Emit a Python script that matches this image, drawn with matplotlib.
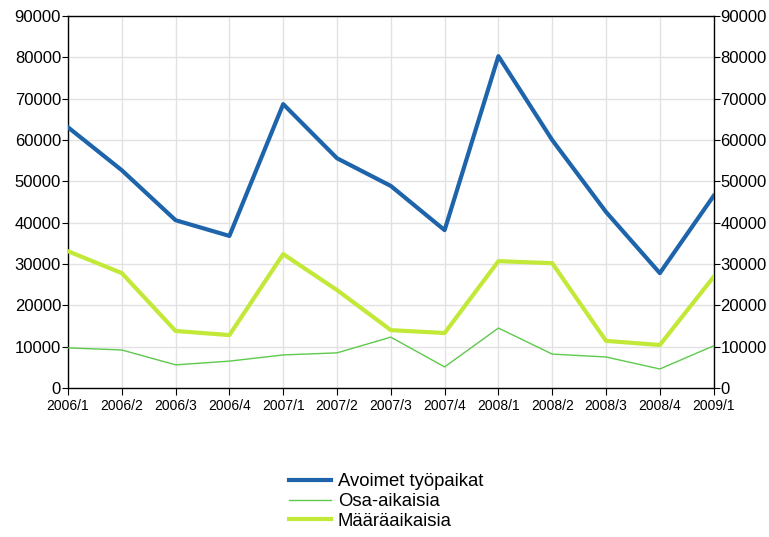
import matplotlib.pyplot as plt
import numpy as np

# quarters (x axis)
quarters = ['2006/1', '2006/2', '2006/3', '2006/4',
            '2007/1', '2007/2', '2007/3', '2007/4',
            '2008/1', '2008/2', '2008/3', '2008/4', '2009/1']

# series values
avoimet = [63100, 52700, 40600, 36800, 68700, 55600, 48900, 38200,
           80300, 60000, 42600, 27800, 46500]
osa_aikaisia = [9700, 9200, 5600, 6500, 8000, 8500, 12300, 5100,
                14500, 8200, 7500, 4600, 10200]
maaraaikaisia = [33100, 27800, 13800, 12800, 32400, 23700, 14000, 13300,
                 30700, 30200, 11400, 10400, 26900]

y_ticks = np.arange(0, 90001, 10000)

plt.rcParams['font.family'] = ['Liberation Sans', 'DejaVu Sans']

fig = plt.figure(figsize=(7.69, 5.37), dpi=100)
ax = fig.add_axes([0.0884, 0.2775, 0.8396, 0.6925])

x = np.arange(len(quarters))
ax.plot(x, avoimet, color='#1d64ab', lw=3, label='Avoimet työpaikat', zorder=3)
ax.plot(x, osa_aikaisia, color='#5ec94c', lw=1, label='Osa-aikaisia', zorder=3)
ax.plot(x, maaraaikaisia, color='#c2e838', lw=3, label='Määräaikaisia', zorder=3)

ax.set_xlim(0, len(quarters) - 1)
ax.set_ylim(0, 90000)
ax.set_xticks(x)
ax.set_xticklabels(quarters, fontsize=10)
ax.set_yticks(y_ticks)
ax.tick_params(axis='y', labelsize=12, right=True, labelright=True,
               length=4, pad=1)
ax.tick_params(axis='x', length=5, pad=3)

ax.grid(True, color='#e2e2e2', lw=1)
ax.set_axisbelow(True)
for s in ax.spines.values():
    s.set_color('black')
    s.set_linewidth(1)

fig.legend(loc='center', bbox_to_anchor=(0.502, 0.066), frameon=False,
           fontsize=13.3, handlelength=2.3, handletextpad=0.35,
           labelspacing=0.15, borderpad=0)

plt.savefig('out.png', dpi=100)
